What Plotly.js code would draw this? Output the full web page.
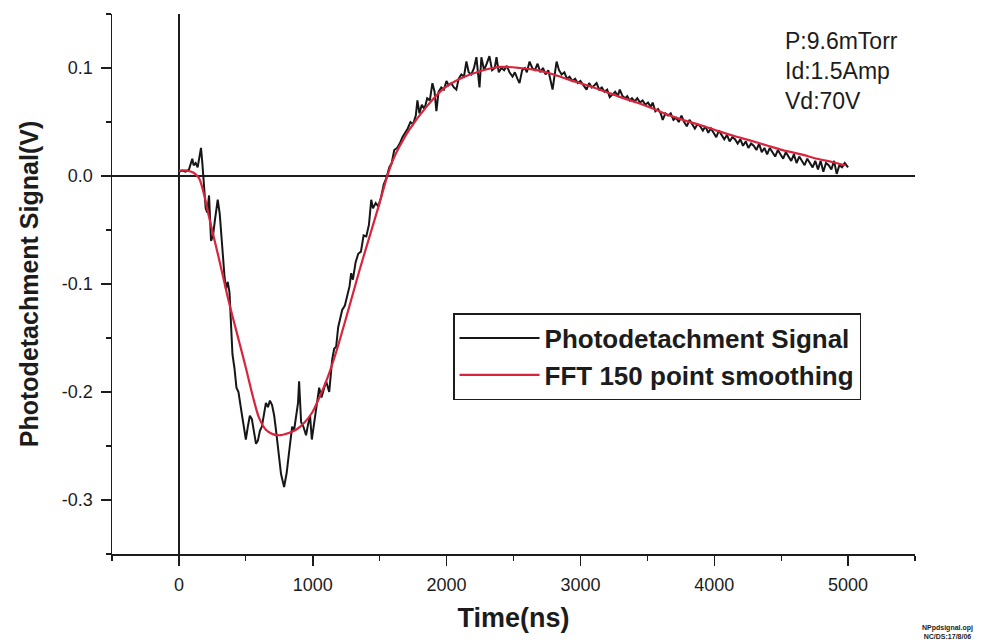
<!DOCTYPE html>
<html>
<head>
<meta charset="utf-8">
<script src="https://cdn.plot.ly/plotly-3.0.1.min.js"></script>
<style>
  html, body { margin: 0; padding: 0; background: #fff; }
  #chart { width: 990px; height: 644px; }
</style>
</head>
<body>
<div id="chart"></div>
<script>
// ---- Data ----
const signalTime = [
  0,25,50,75,90,100,110,125,140,155,165,175,185,200,212,225,240,255,270,290,
  305,320,340,352,365,378,390,400,415,430,445,460,472,485,500,515,530,545,560,576,
  590,605,620,635,650,665,680,696,712,726,745,763,786,805,823,846,860,876,890,898,
  913,930,950,965,980,993,1010,1030,1048,1065,1085,1100,1123,1135,1145,1160,1175,1190,1205,1220,
  1240,1260,1275,1287,1300,1320,1340,1360,1380,1400,1420,1437,1450,1470,1490,1510,1530,1550,1572,1590,
  1609,1630,1650,1670,1690,1710,1730,1750,1770,1782,1797,1815,1835,1855,1875,1894,1910,1924,1940,1960,
  1980,1999,2015,2035,2055,2073,2090,2110,2130,2148,2165,2185,2205,2223,2235,2246,2260,2280,2300,2320,
  2340,2360,2373,2390,2410,2430,2450,2470,2493,2510,2530,2545,2565,2585,2600,2620,2640,2660,2680,2700,
  2720,2740,2760,2778,2792,2808,2822,2840,2860,2880,2900,2919,2940,2960,2980,3000,3025,3046,3065,3085,
  3105,3121,3140,3160,3180,3200,3219,3240,3260,3280,3294,3315,3335,3350,3368,3385,3405,3425,3445,3465,
  3485,3505,3525,3540,3560,3580,3600,3615,3635,3655,3675,3695,3715,3735,3755,3775,3795,3815,3835,3855,
  3875,3895,3915,3935,3955,3975,3995,4015,4035,4055,4075,4095,4115,4135,4155,4175,4195,4215,4235,4255,
  4275,4295,4315,4335,4355,4375,4395,4415,4435,4455,4475,4495,4515,4535,4555,4575,4595,4615,4635,4655,
  4675,4695,4715,4735,4755,4775,4795,4815,4835,4855,4875,4895,4915,4935,4955,4975,5000
];
const signalValue = [
  0.004,0.005,0.004,0.006,0.012,0.016,0.010,0.012,0.008,0.020,0.026,0.012,-0.006,-0.030,-0.034,-0.018,-0.060,-0.055,-0.040,-0.022,
  -0.035,-0.062,-0.092,-0.105,-0.098,-0.108,-0.140,-0.165,-0.178,-0.196,-0.200,-0.214,-0.222,-0.232,-0.244,-0.232,-0.222,-0.225,-0.238,-0.248,
  -0.245,-0.236,-0.232,-0.220,-0.210,-0.214,-0.208,-0.212,-0.222,-0.236,-0.258,-0.276,-0.288,-0.275,-0.256,-0.232,-0.236,-0.220,-0.210,-0.190,
  -0.228,-0.232,-0.240,-0.230,-0.222,-0.244,-0.228,-0.210,-0.196,-0.205,-0.195,-0.190,-0.200,-0.185,-0.170,-0.160,-0.158,-0.140,-0.132,-0.124,
  -0.120,-0.108,-0.102,-0.090,-0.096,-0.080,-0.072,-0.070,-0.055,-0.056,-0.045,-0.022,-0.030,-0.025,-0.028,-0.020,-0.008,-0.002,0.008,0.012,
  0.024,0.026,0.030,0.036,0.040,0.044,0.050,0.048,0.056,0.070,0.058,0.066,0.062,0.072,0.070,0.086,0.078,0.060,0.078,0.082,
  0.080,0.088,0.084,0.086,0.082,0.080,0.090,0.094,0.092,0.106,0.096,0.094,0.100,0.110,0.095,0.082,0.110,0.098,0.104,0.111,
  0.098,0.100,0.110,0.096,0.100,0.098,0.102,0.096,0.092,0.096,0.090,0.086,0.098,0.100,0.096,0.106,0.100,0.098,0.104,0.096,
  0.100,0.094,0.098,0.088,0.080,0.094,0.106,0.098,0.094,0.096,0.090,0.092,0.088,0.090,0.086,0.088,0.084,0.080,0.086,0.082,
  0.084,0.086,0.080,0.082,0.078,0.080,0.073,0.076,0.078,0.074,0.080,0.074,0.072,0.074,0.070,0.072,0.069,0.072,0.068,0.070,
  0.066,0.068,0.064,0.068,0.060,0.062,0.058,0.052,0.058,0.056,0.058,0.052,0.054,0.050,0.056,0.050,0.046,0.052,0.048,0.044,
  0.048,0.046,0.042,0.046,0.040,0.044,0.040,0.036,0.042,0.038,0.034,0.038,0.032,0.036,0.034,0.030,0.034,0.028,0.032,0.026,
  0.030,0.028,0.024,0.030,0.022,0.026,0.020,0.026,0.022,0.018,0.024,0.020,0.016,0.022,0.018,0.014,0.020,0.012,0.018,0.014,
  0.010,0.016,0.012,0.008,0.014,0.006,0.014,0.004,0.012,0.010,0.006,0.014,0.002,0.010,0.008,0.012,0.008
];

const smoothTime = [
  0,60,110,150,190,225,300,374,449,501,550,599,650,700,760,820,875,940,996,1050,
  1110,1175,1250,1300,1350,1422,1497,1557,1600,1647,1722,1849,1969,2100,2250,2400,2550,2672,2800,2919,
  3050,3166,3300,3421,3550,3668,3765,3900,4019,4150,4266,4400,4513,4650,4768,4880,4980
];
const smoothValue = [
  0.005,0.005,0.003,-0.002,-0.018,-0.038,-0.077,-0.117,-0.153,-0.178,-0.203,-0.224,-0.235,-0.239,-0.240,-0.238,-0.235,-0.228,-0.219,-0.205,
  -0.187,-0.163,-0.131,-0.109,-0.087,-0.057,-0.026,0.000,0.015,0.027,0.043,0.064,0.080,0.090,0.097,0.101,0.100,0.098,0.094,0.089,
  0.084,0.079,0.073,0.068,0.062,0.056,0.052,0.047,0.042,0.037,0.033,0.028,0.024,0.020,0.016,0.013,0.010
];

const xTickVals = [0, 1000, 2000, 3000, 4000, 5000];
const xTickText = ['0', '1000', '2000', '3000', '4000', '5000'];
const yTickVals = [-0.3, -0.2, -0.1, 0.0, 0.1];
const yTickText = ['-0.3', '-0.2', '-0.1', '0.0', '0.1'];

const seriesNames = ['Photodetachment Signal', 'FFT 150 point smoothing'];
const conditionLines = ['P:9.6mTorr', 'Id:1.5Amp', 'Vd:70V'];
const fileNote = ['NPpdsignal.opj', 'NC/DS:17/8/06'];

// ---- Chart ----
const FONT = 'Liberation Sans, Arial, sans-serif';
const INK = '#1c1c1c';

const traces = [
  {
    x: signalTime, y: signalValue, type: 'scatter', mode: 'lines',
    name: seriesNames[0],
    line: { color: '#161616', width: 2 }
  },
  {
    x: smoothTime, y: smoothValue, type: 'scatter', mode: 'lines',
    name: seriesNames[1],
    line: { color: '#d8243c', width: 2.2, shape: 'spline', smoothing: 0.8 }
  }
];

const axisCommon = {
  showgrid: false,
  showline: true,
  linecolor: INK,
  linewidth: 1.5,
  ticks: 'outside',
  ticklen: 10,
  tickwidth: 1.5,
  tickcolor: INK,
  tickfont: { family: FONT, size: 18, color: INK },
  zeroline: true,
  zerolinecolor: INK,
  zerolinewidth: 1.5,
  fixedrange: true
};

const layout = {
  width: 990,
  height: 644,
  paper_bgcolor: '#ffffff',
  plot_bgcolor: '#ffffff',
  margin: { l: 112, r: 75, t: 14, b: 90, pad: 0 },
  showlegend: true,
  legend: {
    x: 0.4247, y: 0.446, xanchor: 'left', yanchor: 'top',
    bgcolor: 'rgba(255,255,255,0)',
    bordercolor: INK, borderwidth: 1.5,
    font: { family: FONT, size: 26, color: INK, weight: 'bold' },
    itemwidth: 80,
    tracegroupgap: 0
  },
  xaxis: Object.assign({}, axisCommon, {
    range: [-500, 5500],
    tickmode: 'array',
    tickvals: xTickVals,
    ticktext: xTickText,
    ticklabelstandoff: 4,
    minor: { tickmode: 'linear', tick0: 0, dtick: 500, ticklen: 5, ticks: 'outside', tickcolor: INK, tickwidth: 1.2 },
    title: { text: 'Time(ns)', font: { family: FONT, size: 27, color: INK, weight: 'bold' }, standoff: 14 }
  }),
  yaxis: Object.assign({}, axisCommon, {
    range: [-0.35, 0.15],
    tickmode: 'array',
    tickvals: yTickVals,
    ticktext: yTickText,
    ticklabelstandoff: 4,
    minor: { tickmode: 'linear', tick0: 0, dtick: 0.05, ticklen: 5, ticks: 'outside', tickcolor: INK, tickwidth: 1.2 },
    title: { text: 'Photodetachment Signal(V)', font: { family: FONT, size: 25, color: INK, weight: 'bold' }, standoff: 16 }
  }),
  annotations: [
    {
      xref: 'paper', yref: 'paper', x: 0.836, y: 0.977,
      xanchor: 'left', yanchor: 'top', align: 'left', showarrow: false,
      text: conditionLines.join('<br>'),
      font: { family: FONT, size: 23, color: INK }
    },
    {
      xref: 'paper', yref: 'paper', x: 1.041, y: -0.125,
      xanchor: 'center', yanchor: 'top', align: 'center', showarrow: false,
      text: '<b>' + fileNote.join('<br>') + '</b>',
      font: { family: FONT, size: 7, color: INK }
    }
  ]
};

Plotly.newPlot('chart', traces, layout, { displayModeBar: false, staticPlot: true });
</script>
</body>
</html>
